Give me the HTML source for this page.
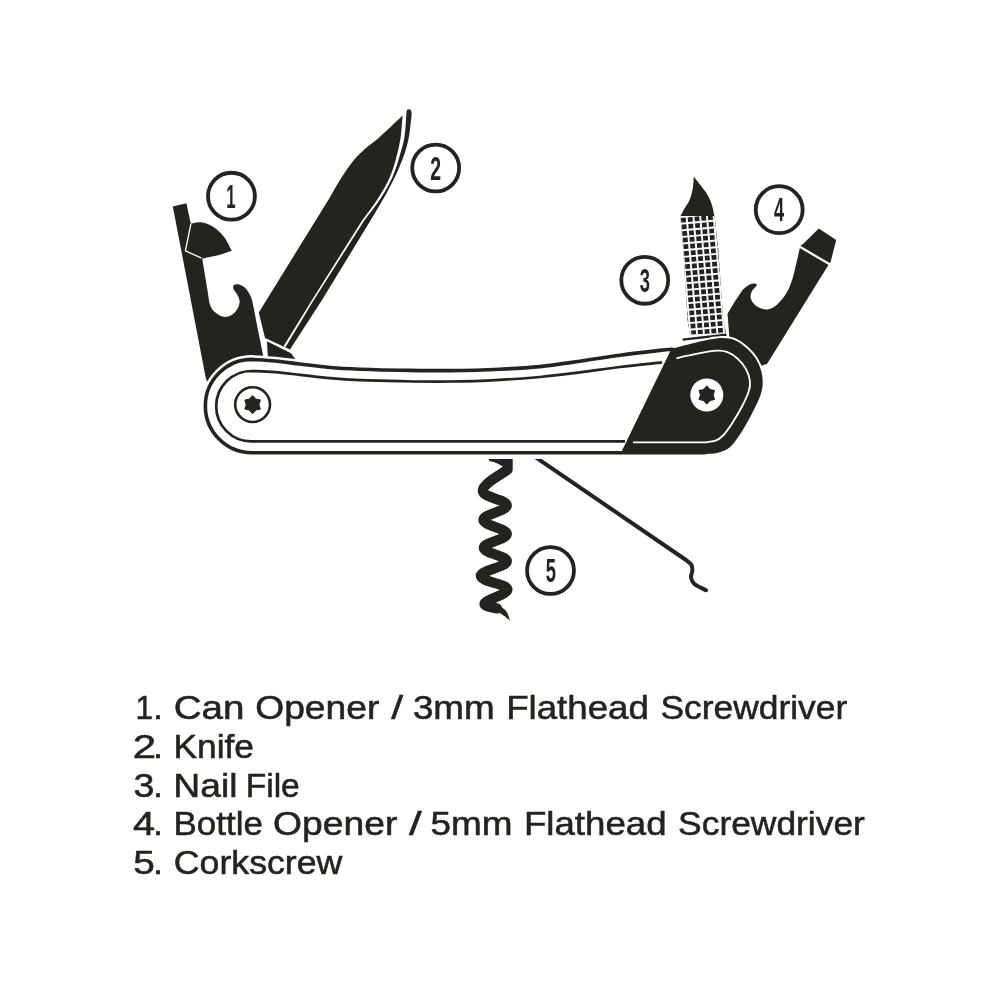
<!DOCTYPE html>
<html lang="en"><head><meta charset="utf-8"><title>Pocket Knife Tools</title>
<style>
html,body{margin:0;padding:0;background:#fff;}
body{width:1000px;height:1000px;overflow:hidden;font-family:"Liberation Sans",sans-serif;}
svg{display:block;filter:blur(0.35px);}
svg text{font-family:"Liberation Sans",sans-serif;}
</style></head><body>
<svg width="1000" height="1000" viewBox="0 0 1000 1000">
<rect width="1000" height="1000" fill="#fff"/>
<path d="M258.8,312.5L330.0,197.2 C332.0,193.8 338.0,183.0 342.0,176.8 C346.0,170.6 350.0,164.8 354.0,160.0 C358.0,155.2 362.0,151.6 366.0,148.0 C370.0,144.4 374.0,141.8 378.0,138.4 C382.0,135.0 385.9,131.4 390.0,127.6 C394.1,123.8 400.5,117.6 402.6,115.6 L407.5,109.5 L410.2,109.2 C410.4,109.8 411.5,110.5 411.6,113.0 C411.7,115.5 411.1,119.8 410.6,124.0 C410.1,128.2 409.6,133.4 408.6,138.4 C407.6,143.4 406.3,148.4 404.4,154.0 C402.5,159.6 400.0,165.8 397.2,172.0 C394.4,178.2 390.8,185.2 387.6,191.2 C384.4,197.2 380.8,203.2 378.0,208.0 C375.2,212.8 372.0,218.0 370.8,220.0 L322.0,300.0 L290.0,349.5 L265.0,338.0Z" fill="#23231f"/>
<path d="M401.5,112.0L402.6,115.6 C402.3,119.0 401.7,129.6 400.8,136.0 C399.9,142.4 399.0,147.2 397.2,154.0 C395.4,160.8 393.2,169.4 390.0,176.8 C386.8,184.2 382.6,191.2 378.0,198.4 C373.4,205.6 365.0,216.4 362.4,220.0 L312.0,300.0 L283.6,346.3 L285.4,347.2 L313.8,300.0 L364.6,220.0 C367.3,216.4 375.9,205.6 380.6,198.4 C385.3,191.2 389.3,184.2 392.6,176.8 C395.9,169.4 398.2,160.8 400.2,154.0 C402.2,147.2 403.5,143.2 404.6,136.0 C405.7,128.8 406.3,115.2 406.6,111.0 L408.0,106.0Z" fill="#fff"/>
<path d="M267,341.2 L291,353.2 L296,360 L268,360 Z" fill="#23231f"/>
<path d="M172.8,206.4L186.4,203.2 L190.8,223.8 C192.1,223.5 195.9,222.2 198.6,222.2 C201.3,222.2 204.0,222.6 207.0,223.8 C210.0,225.0 213.6,226.8 216.6,229.2 C219.6,231.6 222.5,234.6 225.0,238.2 C227.5,241.8 230.7,248.7 231.8,250.8 C229.7,251.5 223.1,253.9 219.0,255.0 C214.9,256.1 209.8,256.8 207.0,257.4 C204.2,258.0 203.0,258.4 202.2,258.6 C202.6,261.0 203.7,267.6 204.6,273.0 C205.5,278.4 206.7,285.7 207.6,291.0 C208.5,296.3 208.8,301.3 210.0,304.8 C211.2,308.3 212.6,310.0 214.8,312.0 C217.0,314.0 220.4,316.3 223.2,316.8 C226.0,317.3 229.2,316.4 231.6,315.0 C234.0,313.6 236.3,310.7 237.6,308.4 C238.9,306.1 239.6,303.4 239.6,301.2 C239.6,299.0 238.6,297.1 237.6,295.2 C236.6,293.3 234.3,290.5 233.6,289.6 C233.6,288.9 232.7,286.5 233.4,285.6 C234.1,284.7 235.7,283.9 237.6,284.2 C239.5,284.5 242.6,285.4 244.8,287.4 C247.0,289.4 249.3,292.9 250.8,296.4 C252.3,299.9 252.8,303.8 253.8,308.4 C254.8,313.0 255.7,318.4 256.8,324.0 C257.9,329.6 259.3,336.5 260.4,342.0 C261.5,347.5 263.0,354.5 263.5,357.0 L262.0,385.0 L210.0,390.0 L205.8,378.0Z" fill="#fff" stroke="#fff" stroke-width="3.4" stroke-linejoin="round"/>
<path d="M172.8,206.4L186.4,203.2 L190.8,223.8 C192.1,223.5 195.9,222.2 198.6,222.2 C201.3,222.2 204.0,222.6 207.0,223.8 C210.0,225.0 213.6,226.8 216.6,229.2 C219.6,231.6 222.5,234.6 225.0,238.2 C227.5,241.8 230.7,248.7 231.8,250.8 C229.7,251.5 223.1,253.9 219.0,255.0 C214.9,256.1 209.8,256.8 207.0,257.4 C204.2,258.0 203.0,258.4 202.2,258.6 C202.6,261.0 203.7,267.6 204.6,273.0 C205.5,278.4 206.7,285.7 207.6,291.0 C208.5,296.3 208.8,301.3 210.0,304.8 C211.2,308.3 212.6,310.0 214.8,312.0 C217.0,314.0 220.4,316.3 223.2,316.8 C226.0,317.3 229.2,316.4 231.6,315.0 C234.0,313.6 236.3,310.7 237.6,308.4 C238.9,306.1 239.6,303.4 239.6,301.2 C239.6,299.0 238.6,297.1 237.6,295.2 C236.6,293.3 234.3,290.5 233.6,289.6 C233.6,288.9 232.7,286.5 233.4,285.6 C234.1,284.7 235.7,283.9 237.6,284.2 C239.5,284.5 242.6,285.4 244.8,287.4 C247.0,289.4 249.3,292.9 250.8,296.4 C252.3,299.9 252.8,303.8 253.8,308.4 C254.8,313.0 255.7,318.4 256.8,324.0 C257.9,329.6 259.3,336.5 260.4,342.0 C261.5,347.5 263.0,354.5 263.5,357.0 L262.0,385.0 L210.0,390.0 L205.8,378.0Z" fill="#23231f"/>
<path d="M190.9,223.8 L185.4,250.8 L201.5,258.2" stroke="#fff" stroke-width="1.3" fill="none"/>
<path d="M693.8,176.5 C693.6,178.4 693.5,184.1 692.9,188.0 C692.2,191.9 691.1,196.2 689.7,199.7 C688.3,203.1 685.9,205.9 684.3,208.7 C682.7,211.5 680.9,215.2 680.2,216.5 L714.5,216.5 C714.1,214.8 713.3,209.6 712.2,206.0 C711.1,202.4 709.7,198.6 707.7,195.2 C705.8,191.8 702.8,188.4 700.5,185.3 C698.2,182.2 694.9,178.0 693.8,176.5Z" fill="#23231f"/>
<clipPath id="fileclip"><path d="M680.25,216 L714.5,216 L718.3,250 L723.2,320 L726,333 L690,334.5 L687.5,320 L683.3,250 Z"/></clipPath>
<g clip-path="url(#fileclip)"><rect x="670" y="210" width="70" height="130" fill="#23231f"/><g transform="translate(680.25,216) rotate(-5.1)" stroke="#fff" stroke-width="1.9"><line x1="-0.45" y1="-10" x2="-0.45" y2="130"/><line x1="6.30" y1="-10" x2="6.30" y2="130"/><line x1="13.05" y1="-10" x2="13.05" y2="130"/><line x1="19.80" y1="-10" x2="19.80" y2="130"/><line x1="26.55" y1="-10" x2="26.55" y2="130"/><line x1="33.30" y1="-10" x2="33.30" y2="130"/><line x1="40.05" y1="-10" x2="40.05" y2="130"/><line x1="46.80" y1="-10" x2="46.80" y2="130"/><line x1="53.55" y1="-10" x2="53.55" y2="130"/><line x1="-15" y1="-5.60" x2="60" y2="-5.60"/><line x1="-15" y1="1.05" x2="60" y2="1.05"/><line x1="-15" y1="7.70" x2="60" y2="7.70"/><line x1="-15" y1="14.35" x2="60" y2="14.35"/><line x1="-15" y1="21.00" x2="60" y2="21.00"/><line x1="-15" y1="27.65" x2="60" y2="27.65"/><line x1="-15" y1="34.30" x2="60" y2="34.30"/><line x1="-15" y1="40.95" x2="60" y2="40.95"/><line x1="-15" y1="47.60" x2="60" y2="47.60"/><line x1="-15" y1="54.25" x2="60" y2="54.25"/><line x1="-15" y1="60.90" x2="60" y2="60.90"/><line x1="-15" y1="67.55" x2="60" y2="67.55"/><line x1="-15" y1="74.20" x2="60" y2="74.20"/><line x1="-15" y1="80.85" x2="60" y2="80.85"/><line x1="-15" y1="87.50" x2="60" y2="87.50"/><line x1="-15" y1="94.15" x2="60" y2="94.15"/><line x1="-15" y1="100.80" x2="60" y2="100.80"/><line x1="-15" y1="107.45" x2="60" y2="107.45"/><line x1="-15" y1="114.10" x2="60" y2="114.10"/><line x1="-15" y1="120.75" x2="60" y2="120.75"/><line x1="-15" y1="127.40" x2="60" y2="127.40"/></g></g>
<path d="M682.5,338.4 L726.3,333.6 L726.6,335.9 L682.8,340.8 Z" fill="#23231f"/>
<path d="M729.6,340.0L727.5,313.8 L735.0,301.2 L742.5,290.0 C743.5,289.2 746.7,286.1 748.8,285.0 C750.8,283.9 753.6,283.5 755.0,283.5 C756.4,283.5 756.7,284.9 757.0,285.2 C756.1,286.2 753.0,289.2 751.9,291.2 C750.8,293.3 750.3,295.4 750.6,297.5 C750.9,299.6 752.2,302.0 753.8,303.8 C755.3,305.5 757.7,307.2 760.0,308.1 C762.3,309.0 765.0,309.7 767.5,309.4 C770.0,309.1 772.5,308.0 775.0,306.2 C777.5,304.5 780.3,301.5 782.5,298.8 C784.7,296.0 786.4,293.3 788.1,290.0 C789.8,286.7 791.1,283.1 792.5,278.8 C793.9,274.4 795.1,268.5 796.2,263.8 C797.4,259.0 798.7,253.0 799.4,250.0 C800.1,247.0 800.3,246.2 800.5,245.5 L802.5,244.4 L818.8,228.5 L836.2,240.0 L830.6,261.9 L828.1,265.6 L767.0,364.0 L740.0,372.0Z" fill="#23231f"/>
<path d="M799,246.3 L830.5,264.8" stroke="#fff" stroke-width="2.2" fill="none"/>
<path d="M252.0,452.7 A46.65,46.65 0 0 1 252,359.4 C255.8,359.7 267.0,360.2 275.0,361.0 C283.0,361.8 290.8,362.9 300.0,364.0 C309.2,365.1 320.0,366.6 330.0,367.5 C340.0,368.4 348.3,368.8 360.0,369.2 C371.7,369.6 385.0,370.0 400.0,370.2 C415.0,370.4 433.3,370.8 450.0,370.6 C466.7,370.4 485.0,369.9 500.0,369.2 C515.0,368.5 526.7,367.9 540.0,366.6 C553.3,365.3 566.7,363.1 580.0,361.2 C593.3,359.3 606.7,357.0 620.0,355.2 C633.3,353.4 651.4,351.4 660.0,350.4 C668.6,349.4 669.6,349.5 671.5,349.3 L700.0,355.0 L705.0,452.7Z" fill="#fff" stroke="#fff" stroke-width="8.6" stroke-linejoin="round"/>
<path d="M671.2,349.2 C674.3,348.3 683.6,345.6 690.0,344.0 C696.4,342.4 704.0,340.5 709.5,339.5 C715.0,338.5 718.8,337.9 723.0,338.0 C727.2,338.1 731.0,338.4 735.0,340.2 C739.0,341.9 743.5,345.4 747.0,348.5 C750.5,351.6 753.6,355.2 756.0,359.0 C758.4,362.8 760.1,367.0 761.2,371.0 C762.3,375.0 762.8,379.0 762.7,383.0 C762.6,387.0 762.1,390.2 760.5,395.0 C758.9,399.8 755.8,406.0 753.0,411.5 C750.2,417.0 747.0,423.0 744.0,428.0 C741.0,433.0 737.8,438.0 735.0,441.5 C732.2,445.0 730.5,447.1 727.5,449.0 C724.5,450.9 720.8,452.1 717.0,452.9 C713.2,453.7 707.0,453.8 705.0,454.0 L620.4,454.0Z" fill="#fff" stroke="#fff" stroke-width="3.8" stroke-linejoin="round"/>
<path d="M252.0,452.7 A46.65,46.65 0 0 1 252,359.4 C255.8,359.7 267.0,360.2 275.0,361.0 C283.0,361.8 290.8,362.9 300.0,364.0 C309.2,365.1 320.0,366.6 330.0,367.5 C340.0,368.4 348.3,368.8 360.0,369.2 C371.7,369.6 385.0,370.0 400.0,370.2 C415.0,370.4 433.3,370.8 450.0,370.6 C466.7,370.4 485.0,369.9 500.0,369.2 C515.0,368.5 526.7,367.9 540.0,366.6 C553.3,365.3 566.7,363.1 580.0,361.2 C593.3,359.3 606.7,357.0 620.0,355.2 C633.3,353.4 651.4,351.4 660.0,350.4 C668.6,349.4 669.6,349.5 671.5,349.3 L700.0,355.0 L705.0,452.7Z" fill="#fff" stroke="#23231f" stroke-width="3.6" stroke-linejoin="round"/>
<path d="M625.0,441.4L251.4,441.4 A35.2,35.2 0 0 1 251.4,371 C255.3,371.2 266.9,371.6 275.0,372.2 C283.1,372.8 290.8,373.8 300.0,374.8 C309.2,375.8 320.0,377.3 330.0,378.2 C340.0,379.1 348.3,379.7 360.0,380.2 C371.7,380.7 385.0,381.0 400.0,381.2 C415.0,381.4 433.3,381.7 450.0,381.5 C466.7,381.3 485.0,380.6 500.0,379.8 C515.0,379.1 526.7,378.2 540.0,377.0 C553.3,375.8 566.7,374.1 580.0,372.4 C593.3,370.7 606.3,368.7 620.0,367.0 C633.7,365.3 655.0,363.2 662.0,362.4" fill="none" stroke="#23231f" stroke-width="2.7"/>
<path d="M671.2,349.2 C674.3,348.3 683.6,345.6 690.0,344.0 C696.4,342.4 704.0,340.5 709.5,339.5 C715.0,338.5 718.8,337.9 723.0,338.0 C727.2,338.1 731.0,338.4 735.0,340.2 C739.0,341.9 743.5,345.4 747.0,348.5 C750.5,351.6 753.6,355.2 756.0,359.0 C758.4,362.8 760.1,367.0 761.2,371.0 C762.3,375.0 762.8,379.0 762.7,383.0 C762.6,387.0 762.1,390.2 760.5,395.0 C758.9,399.8 755.8,406.0 753.0,411.5 C750.2,417.0 747.0,423.0 744.0,428.0 C741.0,433.0 737.8,438.0 735.0,441.5 C732.2,445.0 730.5,447.1 727.5,449.0 C724.5,450.9 720.8,452.1 717.0,452.9 C713.2,453.7 707.0,453.8 705.0,454.0 L620.4,454.0Z" fill="#23231f"/>
<path d="M676.5,358.2 C680.0,357.4 690.8,354.9 697.5,353.7 C704.2,352.4 712.0,350.9 717.0,350.7 C722.0,350.4 724.0,350.8 727.5,352.2 C731.0,353.6 734.9,356.1 738.0,359.0 C741.1,361.9 744.2,365.8 746.2,369.5 C748.2,373.2 749.6,377.8 750.0,381.5 C750.4,385.2 749.8,388.0 748.5,392.0 C747.2,396.0 745.2,400.2 742.5,405.5 C739.8,410.8 735.2,418.5 732.0,423.5 C728.8,428.5 725.8,432.6 723.0,435.5 C720.2,438.4 718.5,439.6 715.5,440.7 C712.5,441.8 706.8,442.0 705.0,442.3 L633.0,442.3" fill="none" stroke="#fff" stroke-width="1.8"/>
<circle cx="252.6" cy="404.6" r="17.4" fill="#fff" stroke="#23231f" stroke-width="2.6"/>
<polygon points="252.6,395.8 255.7,399.2 260.2,400.2 258.8,404.6 260.2,409.0 255.7,410.0 252.6,413.4 249.5,410.0 245.0,409.0 246.4,404.6 245.0,400.2 249.5,399.2" fill="#23231f" stroke="#23231f" stroke-width="1.2" stroke-linejoin="round"/>
<circle cx="706.8" cy="395" r="16.5" fill="#fff"/>
<polygon points="706.8,386.2 709.9,389.6 714.4,390.6 713.0,395.0 714.4,399.4 709.9,400.4 706.8,403.8 703.7,400.4 699.2,399.4 700.6,395.0 699.2,390.6 703.7,389.6" fill="#23231f" stroke="#23231f" stroke-width="1.2" stroke-linejoin="round"/>
<clipPath id="corkclip"><rect x="460" y="459" width="80" height="180"/></clipPath>
<path clip-path="url(#corkclip)" d="M507.6,452.0 L507.6,469.5 C502.6,473.7 483.0,483.4 482.8,490.6 C482.6,497.8 506.7,499.6 506.8,505.4 C506.9,511.2 483.4,514.1 483.4,519.8 C483.4,525.5 506.7,528.4 506.8,534.0 C506.9,539.6 483.8,542.3 483.8,547.8 C483.8,553.3 507.4,555.8 506.8,561.4 C506.2,567.0 480.7,570.4 480.8,576.0 C480.9,581.6 506.6,583.8 507.4,589.2 C508.2,594.6 486.9,599.1 484.8,603.0 C482.7,606.9 494.6,607.4 497.0,608.5" fill="none" stroke="#23231f" stroke-width="10.2" stroke-linejoin="round" stroke-linecap="round"/>
<path d="M488.4,459 L509,459 L506,469 Q498,462.3 489.6,461.3 Z" fill="#23231f"/>
<path d="M484.0,607.0 C485.1,606.2 487.9,602.3 490.6,602.2 C493.4,602.1 497.8,605.0 500.5,606.6 C503.2,608.2 505.2,609.6 506.8,612.0 C508.4,614.4 509.5,619.3 510.0,620.8 C509.2,620.1 507.0,617.9 505.0,616.5 C503.0,615.1 500.8,613.3 497.8,612.2 C494.8,611.1 489.6,611.0 487.0,610.0 C484.4,609.0 482.8,606.7 482.0,606.0Z" fill="#23231f"/>
<clipPath id="pickclip"><rect x="500" y="459" width="300" height="200"/></clipPath>
<path d="M531.6,454.5L686.0,560.0 C686.9,560.8 690.5,563.2 691.5,565.0 C692.5,566.8 692.4,568.9 692.3,571.0 C692.2,573.1 690.6,575.3 691.0,577.5 C691.4,579.7 691.9,581.9 694.4,584.0 C696.9,586.1 704.1,589.2 706.0,590.2" clip-path="url(#pickclip)" fill="none" stroke="#23231f" stroke-width="4" stroke-linecap="round" stroke-linejoin="round"/>
<circle cx="231.45" cy="196.2" r="23.45" fill="#fff" stroke="#23231f" stroke-width="3.8"/>
<text transform="translate(226.23,207.90) scale(0.510,1.000)" font-size="33" font-weight="bold" fill="#23231f">1</text>
<circle cx="435.7" cy="168.0" r="23.45" fill="#fff" stroke="#23231f" stroke-width="3.8"/>
<text transform="translate(430.35,179.50) scale(0.591,1.017)" font-size="33" font-weight="bold" fill="#23231f">2</text>
<circle cx="644.75" cy="280.3" r="23.45" fill="#fff" stroke="#23231f" stroke-width="3.8"/>
<text transform="translate(639.86,291.51) scale(0.555,0.987)" font-size="33" font-weight="bold" fill="#23231f">3</text>
<circle cx="779.2" cy="209.65" r="23.45" fill="#fff" stroke="#23231f" stroke-width="3.8"/>
<text transform="translate(774.03,221.20) scale(0.548,1.004)" font-size="33" font-weight="bold" fill="#23231f">4</text>
<circle cx="550.5" cy="570.5" r="23.45" fill="#fff" stroke="#23231f" stroke-width="3.8"/>
<text transform="translate(545.75,581.90) scale(0.555,1.004)" font-size="33" font-weight="bold" fill="#23231f">5</text>
<text y="719.4" font-size="34" fill="#23231f" stroke="#23231f" stroke-width="0.55"><tspan x="135.6" textLength="17.5" lengthAdjust="spacingAndGlyphs">1</tspan><tspan x="153.1" textLength="10.0" lengthAdjust="spacingAndGlyphs">.</tspan> <tspan x="173.7" textLength="70.8" lengthAdjust="spacingAndGlyphs">Can</tspan> <tspan x="255.2" textLength="124.1" lengthAdjust="spacingAndGlyphs">Opener</tspan> <tspan x="391.3" textLength="11.8" lengthAdjust="spacingAndGlyphs">/</tspan> <tspan x="412.9" textLength="81.8" lengthAdjust="spacingAndGlyphs">3mm</tspan> <tspan x="506.2" textLength="142.7" lengthAdjust="spacingAndGlyphs">Flathead</tspan> <tspan x="660.4" textLength="186.8" lengthAdjust="spacingAndGlyphs">Screwdriver</tspan></text>
<text y="758.0" font-size="34" fill="#23231f" stroke="#23231f" stroke-width="0.55"><tspan x="132.7" textLength="23.4" lengthAdjust="spacingAndGlyphs">2</tspan><tspan x="153.1" textLength="10.0" lengthAdjust="spacingAndGlyphs">.</tspan> <tspan x="173.5" textLength="80.5" lengthAdjust="spacingAndGlyphs">Knife</tspan></text>
<text y="796.6" font-size="34" fill="#23231f" stroke="#23231f" stroke-width="0.55"><tspan x="133.4" textLength="20.9" lengthAdjust="spacingAndGlyphs">3</tspan><tspan x="153.1" textLength="10.0" lengthAdjust="spacingAndGlyphs">.</tspan> <tspan x="173.3" textLength="64.2" lengthAdjust="spacingAndGlyphs">Nail</tspan> <tspan x="245.7" textLength="54.1" lengthAdjust="spacingAndGlyphs">File</tspan></text>
<text y="835.2" font-size="34" fill="#23231f" stroke="#23231f" stroke-width="0.55"><tspan x="133.1" textLength="22.1" lengthAdjust="spacingAndGlyphs">4</tspan><tspan x="153.1" textLength="10.0" lengthAdjust="spacingAndGlyphs">.</tspan> <tspan x="173.5" textLength="89.4" lengthAdjust="spacingAndGlyphs">Bottle</tspan> <tspan x="273.1" textLength="124.3" lengthAdjust="spacingAndGlyphs">Opener</tspan> <tspan x="409.0" textLength="12.7" lengthAdjust="spacingAndGlyphs">/</tspan> <tspan x="430.5" textLength="82.0" lengthAdjust="spacingAndGlyphs">5mm</tspan> <tspan x="523.9" textLength="142.7" lengthAdjust="spacingAndGlyphs">Flathead</tspan> <tspan x="678.1" textLength="186.8" lengthAdjust="spacingAndGlyphs">Screwdriver</tspan></text>
<text y="873.8" font-size="34" fill="#23231f" stroke="#23231f" stroke-width="0.55"><tspan x="133.2" textLength="21.6" lengthAdjust="spacingAndGlyphs">5</tspan><tspan x="153.1" textLength="10.0" lengthAdjust="spacingAndGlyphs">.</tspan> <tspan x="173.8" textLength="168.6" lengthAdjust="spacingAndGlyphs">Corkscrew</tspan></text>
</svg>
</body></html>
